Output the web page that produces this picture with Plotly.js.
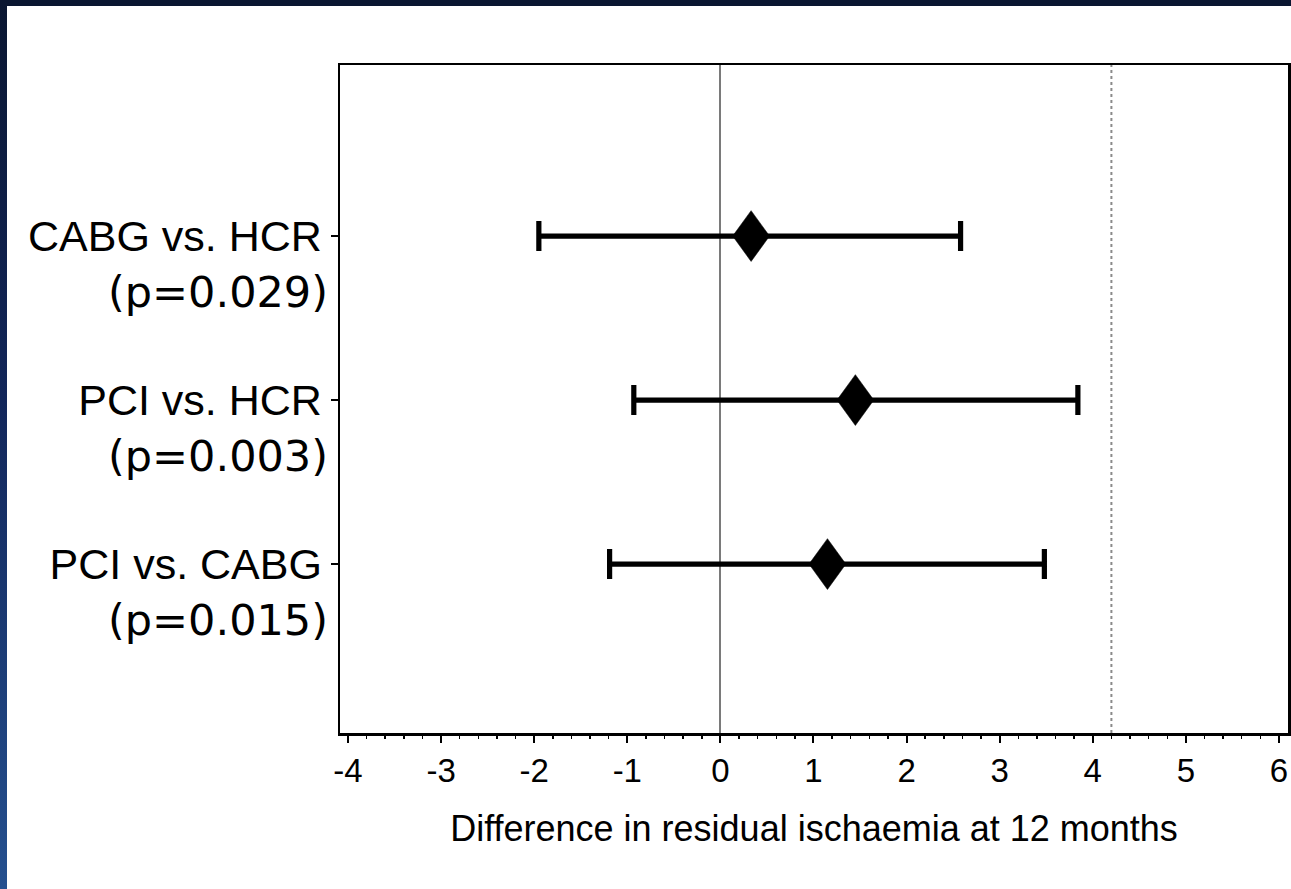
<!DOCTYPE html>
<html>
<head>
<meta charset="utf-8">
<script src="https://cdn.plot.ly/plotly-3.0.1.min.js"></script>
<style>
  html, body { margin: 0; padding: 0; width: 1291px; height: 889px; overflow: hidden; }
  body { background: #0a1631; position: relative; }
  #strip { position: absolute; left: 0; top: 0; width: 7px; height: 889px;
           background: linear-gradient(to bottom, #0a1631 0%, #12265a 45%, #25508f 100%); }
  #chart { position: absolute; left: 7px; top: 6px; width: 1284px; height: 883px; background: #fff; }
</style>
</head>
<body>
<div id="strip"></div>
<div id="chart"></div>
<script>
// ---- data ----
const comparisons = ["CABG vs. HCR", "PCI vs. HCR", "PCI vs. CABG"];
const pValues = ["(p=0.029)", "(p=0.003)", "(p=0.015)"];
const estimates = [0.33, 1.45, 1.15];
const lowerCI = [-1.95, -0.93, -1.19];
const upperCI = [2.58, 3.84, 3.48];
const referenceLine = 4.2;
const xTickValues = [-4, -3, -2, -1, 0, 1, 2, 3, 4, 5, 6];
const xTitle = "Difference in residual ischaemia at 12 months";

// row positions derived from order (top to bottom)
const rows = comparisons.map((_, i) => comparisons.length - i);

// diamond half-sizes in data units (style)
const dHalfX = 0.198, dHalfY = 0.155;

const traces = [];
traces.push({
  type: 'scatter', mode: 'markers',
  x: estimates, y: rows,
  marker: { size: 1, color: 'rgba(0,0,0,0)' },
  error_x: {
    type: 'data', symmetric: false,
    array: estimates.map((e, i) => upperCI[i] - e),
    arrayminus: estimates.map((e, i) => e - lowerCI[i]),
    color: '#000', thickness: 5.2, width: 15
  },
  hoverinfo: 'skip', showlegend: false
});
estimates.forEach((e, i) => {
  const r = rows[i];
  traces.push({
    type: 'scatter', mode: 'lines', fill: 'toself',
    x: [e - dHalfX, e, e + dHalfX, e, e - dHalfX],
    y: [r, r + dHalfY, r, r - dHalfY, r],
    line: { color: '#000', width: 0.5 }, fillcolor: '#000',
    hoverinfo: 'skip', showlegend: false
  });
});

const layout = {
  width: 1284, height: 883,
  margin: { l: 333, r: 3, t: 59, b: 156 },
  paper_bgcolor: '#fff', plot_bgcolor: '#fff',
  showlegend: false,
  xaxis: {
    range: [-4.086, 6.097],
    tickvals: xTickValues,
    ticktext: xTickValues.map(String),
    ticks: 'outside', ticklen: 7, tickwidth: 2, tickcolor: '#000',
    minor: { dtick: 0.2, ticks: 'outside', ticklen: 3, tickwidth: 1.5, tickcolor: '#000', showgrid: false },
    showgrid: false,
    zeroline: true, zerolinecolor: '#7a7a7a', zerolinewidth: 2,
    showline: true, linecolor: '#000', linewidth: 2.5, mirror: true,
    tickfont: { family: 'Liberation Sans, Arial, sans-serif', size: 33, color: '#000' },
    title: { text: xTitle, standoff: 28,
             font: { family: 'Liberation Sans, Arial, sans-serif', size: 36, color: '#000' } },
    automargin: false
  },
  yaxis: {
    range: [-0.03, 4.043],
    tickvals: rows,
    ticktext: comparisons,
    ticks: 'outside', ticklen: 7, tickwidth: 2, tickcolor: '#000',
    showgrid: false, zeroline: false,
    showline: true, linecolor: '#000', linewidth: 2.5, mirror: true,
    tickfont: { family: 'Liberation Sans, Arial, sans-serif', size: 43, color: '#000' },
    automargin: false
  },
  shapes: [{
    type: 'line', xref: 'x', yref: 'paper',
    x0: referenceLine, x1: referenceLine, y0: 0, y1: 1,
    line: { color: '#8a8a8a', width: 2, dash: 'dot' }
  }],
  annotations: pValues.map((p, i) => ({
    xref: 'paper', yref: 'y', x: 0, y: rows[i],
    xanchor: 'right', yanchor: 'middle', xshift: -10, yshift: -56,
    text: p, showarrow: false,
    font: { family: 'DejaVu Sans, sans-serif', size: 43, color: '#000' }
  }))
};

Plotly.newPlot('chart', traces, layout, { displayModeBar: false, staticPlot: true });
</script>
</body>
</html>
